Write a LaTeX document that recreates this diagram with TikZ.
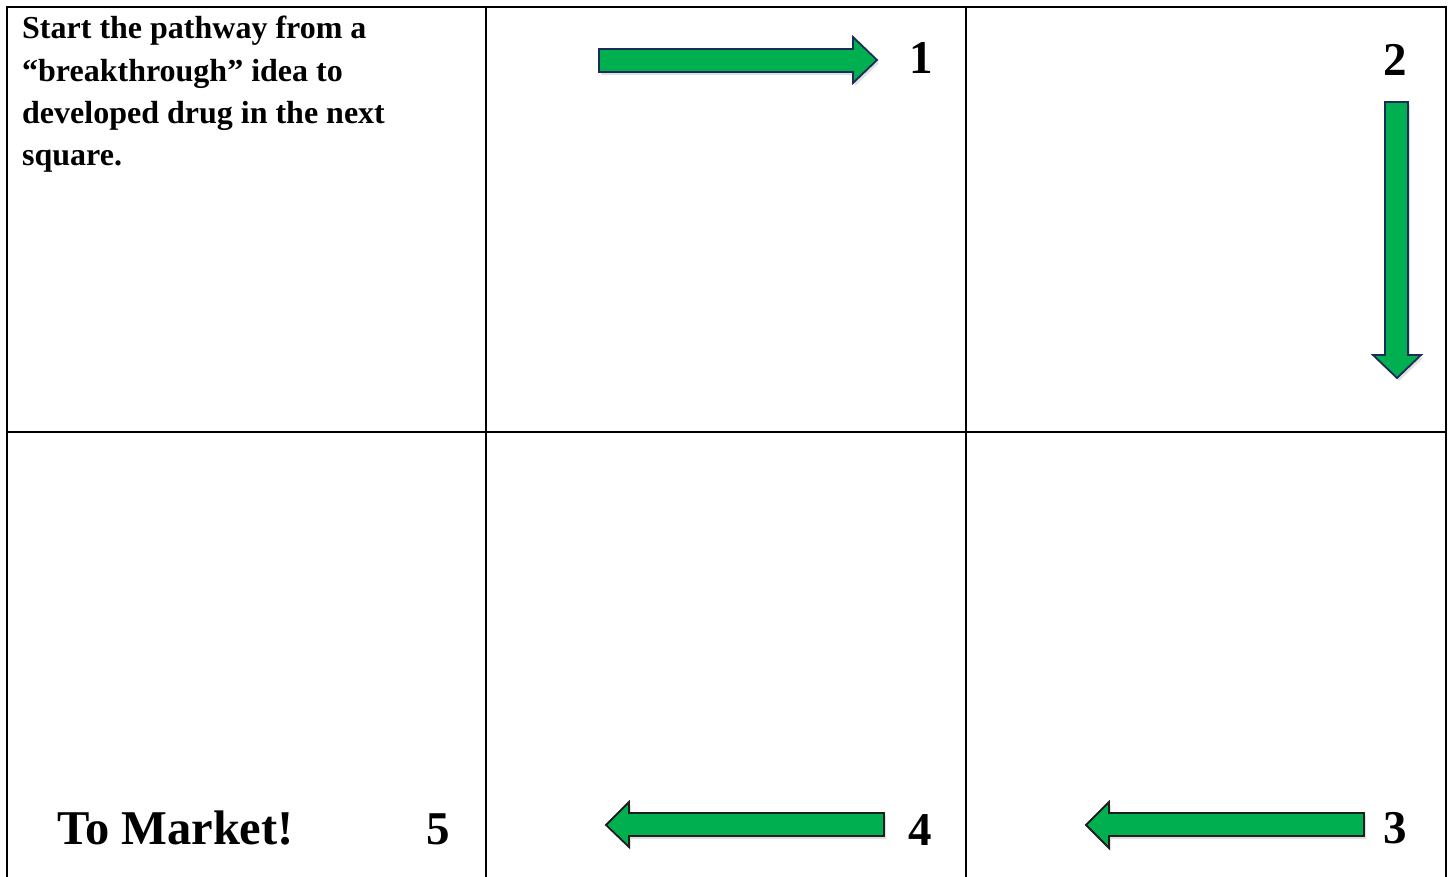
\documentclass[tikz,border=0pt]{standalone}
\usepackage{fontspec}
\setmainfont{Liberation Serif}
\definecolor{arrgreen}{HTML}{00B050}
\definecolor{navyline}{HTML}{1C2C58}
\definecolor{darkline}{HTML}{1E1E1E}
\begin{document}
\begin{tikzpicture}[x=1pt,y=-1pt,
  gridline/.style={line width=2.3pt,black},
  blockarrow/.style={fill=arrgreen,line width=1.8pt,line join=miter},
  arrshadow/.style={fill=black,opacity=0.12,draw=none},
  numlabel/.style={anchor=base,inner sep=0pt,font=\fontsize{47}{50}\selectfont\bfseries},
  ]
\useasboundingbox (0,0) rectangle (1452,877);
\clip (0,0) rectangle (1452,877);
\fill[white] (0,0) rectangle (1452,877);
% grid
\draw[gridline] (7,7) rectangle (1446,900);
\draw[gridline] (486,7) -- (486,900);
\draw[gridline] (966,7) -- (966,900);
\draw[gridline] (7,432) -- (1446,432);
% header text
\node[anchor=base west,inner sep=0pt,font=\fontsize{32}{42.3}\selectfont\bfseries] (intro) at (22,39)
  {\parbox[t]{420pt}{\raggedright Start the pathway from a\\ “breakthrough” idea to\\ developed drug in the next\\ square.}};
% shadows
\begin{scope}[shift={(2,3)}]
\fill[arrshadow] (599,49) -- (853,49) -- (853,37) -- (877,60) -- (853,83) -- (853,72) -- (599,72) -- cycle;
\fill[arrshadow] (1385,102) -- (1408,102) -- (1408,355) -- (1421,355) -- (1397,378) -- (1373,355) -- (1385,355) -- cycle;
\fill[arrshadow] (1364,813) -- (1109,813) -- (1109,802) -- (1086,825) -- (1109,848) -- (1109,836) -- (1364,836) -- cycle;
\fill[arrshadow] (884,813) -- (629,813) -- (629,802) -- (606,825) -- (629,847) -- (629,836) -- (884,836) -- cycle;
\end{scope}
% arrow 1 (right)
\draw[blockarrow,draw=navyline] (599,49) -- (853,49) -- (853,37) -- (877,60) -- (853,83) -- (853,72) -- (599,72) -- cycle;
% arrow 2 (down)
\draw[blockarrow,draw=navyline] (1385,102) -- (1408,102) -- (1408,355) -- (1421,355) -- (1397,378) -- (1373,355) -- (1385,355) -- cycle;
% arrow 3 (left)
\draw[blockarrow,draw=darkline] (1364,813) -- (1109,813) -- (1109,802) -- (1086,825) -- (1109,848) -- (1109,836) -- (1364,836) -- cycle;
% arrow 4 (left)
\draw[blockarrow,draw=darkline] (884,813) -- (629,813) -- (629,802) -- (606,825) -- (629,847) -- (629,836) -- (884,836) -- cycle;
% numbers
\node[numlabel] (n1) at (921,74) {1};
\node[numlabel] (n2) at (1395,76) {2};
\node[numlabel] (n3) at (1395,843) {3};
\node[numlabel] (n4) at (920,845) {4};
\node[numlabel] (n5) at (438,844) {5};
\node[anchor=base west,inner sep=0pt,font=\fontsize{48.5}{50}\selectfont\bfseries] (market) at (57,844) {To Market!};
\end{tikzpicture}
\end{document}
